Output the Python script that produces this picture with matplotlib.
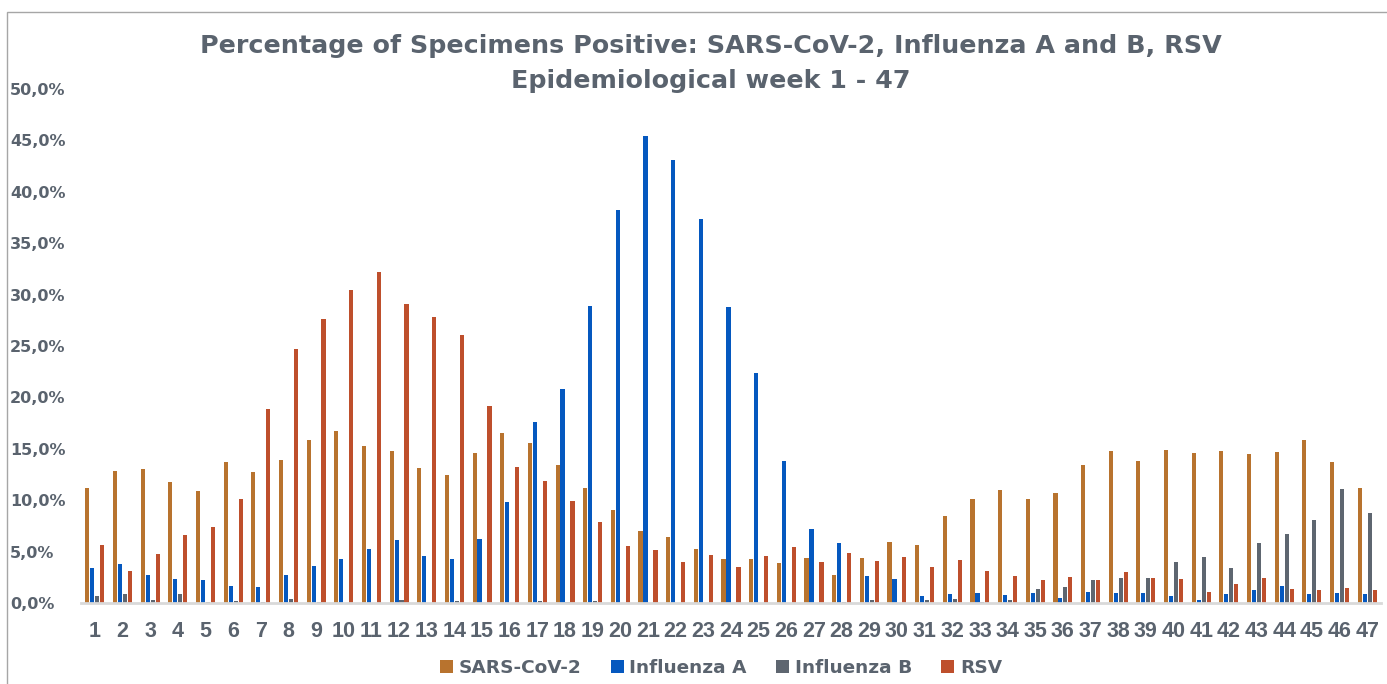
import numpy as np
import matplotlib
matplotlib.use('Agg')
import matplotlib.pyplot as plt
from matplotlib.patches import Rectangle, Patch
from matplotlib.ticker import FuncFormatter

weeks = list(range(1, 48))

sars_cov2 = [11.2, 12.85, 13.0, 11.75, 10.9, 13.7, 12.7, 13.9, 15.9, 16.7,
             15.3, 14.8, 13.1, 12.5, 14.6, 16.5, 15.6, 13.4, 11.2, 9.05,
             7.05, 6.4, 5.25, 4.3, 4.3, 3.9, 4.4, 2.7, 4.35, 5.9,
             5.65, 8.45, 10.1, 10.95, 10.1, 10.7, 13.4, 14.8, 13.8, 14.9,
             14.6, 14.8, 14.5, 14.7, 15.9, 13.7, 11.2]
influenza_a = [3.4, 3.8, 2.7, 2.3, 2.2, 1.7, 1.55, 2.7, 3.6, 4.3,
               5.25, 6.1, 4.6, 4.3, 6.25, 9.8, 17.6, 20.8, 28.85, 38.2,
               45.4, 43.1, 37.4, 28.8, 22.35, 13.8, 7.2, 5.85, 2.65, 2.3,
               0.7, 0.9, 1.0, 0.8, 1.0, 0.5, 1.05, 1.0, 1.0, 0.7,
               0.3, 0.9, 1.25, 1.7, 0.9, 1.0, 0.9]
influenza_b = [0.7, 0.9, 0.25, 0.9, 0.05, 0.2, 0.05, 0.4, 0.1, 0.0,
               0.0, 0.3, 0.0, 0.2, 0.0, 0.0, 0.2, 0.1, 0.2, 0.0,
               0.0, 0.0, 0.0, 0.0, 0.0, 0.0, 0.0, 0.1, 0.3, 0.0,
               0.3, 0.4, 0.1, 0.3, 1.4, 1.55, 2.25, 2.45, 2.45, 4.0,
               4.5, 3.4, 5.8, 6.7, 8.05, 11.05, 8.75]
rsv = [5.6, 3.1, 4.8, 6.6, 7.4, 10.1, 18.9, 24.7, 27.65, 30.4,
       32.15, 29.1, 27.8, 26.05, 19.2, 13.2, 11.85, 9.9, 7.9, 5.55,
       5.2, 4.0, 4.7, 3.55, 4.6, 5.45, 3.95, 4.85, 4.1, 4.5,
       3.5, 4.15, 3.1, 2.65, 2.2, 2.5, 2.25, 3.0, 2.45, 2.35,
       1.1, 1.85, 2.45, 1.35, 1.25, 1.45, 1.3]

series = [("SARS-CoV-2", sars_cov2, "#B8732E"),
          ("Influenza A", influenza_a, "#0558BF"),
          ("Influenza B", influenza_b, "#5E6670"),
          ("RSV", rsv, "#BE4F2C")]

text_color = "#5A636E"

W, H = 1387, 684
fig = plt.figure(figsize=(W / 100, H / 100), dpi=100)
ax = fig.add_axes([81 / W, (H - 603) / H, 1300 / W, (603 - 89) / H])

x = np.array(weeks)
step = 0.18
for i, (name, vals, col) in enumerate(series):
    ax.bar(x + (i - 1.5) * step, vals, width=0.15, color=col, label=name, zorder=2)

ax.set_xlim(0.5, 47.5)
ax.set_ylim(0, 50)
ax.set_yticks(np.arange(0, 51, 5))
ax.yaxis.set_major_formatter(FuncFormatter(lambda v, p: f"{v:.1f}%".replace(".", ",")))
ax.set_xticks(x)
ax.set_xticklabels([str(w) for w in weeks])

ax.tick_params(axis='y', length=0, pad=51, labelsize=11.5, labelcolor=text_color)
ax.tick_params(axis='x', length=0, pad=13, labelsize=15.5, labelcolor=text_color)
for lab in ax.get_yticklabels():
    lab.set_horizontalalignment('left')
    lab.set_fontweight('bold')
for lab in ax.get_xticklabels():
    lab.set_fontweight('bold')
    lab.set_family('Liberation Sans')

for s in ['top', 'right', 'left']:
    ax.spines[s].set_visible(False)
ax.spines['bottom'].set_color('#D9D9D9')
ax.spines['bottom'].set_linewidth(2)

fig.text(711 / W, 1 - 46 / H,
         "Percentage of Specimens Positive: SARS-CoV-2, Influenza A and B, RSV",
         ha='center', va='center', fontsize=18.3, fontweight='bold', color=text_color)
fig.text(711 / W, 1 - 81 / H, "Epidemiological week 1 - 47",
         ha='center', va='center', fontsize=18.3, fontweight='bold', color=text_color)

handles = [Patch(facecolor=c, label=n) for n, _, c in series]
leg = fig.legend(handles=handles, loc='center', bbox_to_anchor=(721 / W, 1 - 668 / H),
                 ncol=4, frameon=False, fontsize=13.3, handlelength=0.7, handleheight=0.7,
                 handletextpad=0.3, columnspacing=1.6)
for t in leg.get_texts():
    t.set_color(text_color)
    t.set_fontweight('bold')

fig.patches.append(Rectangle((7 / W, -0.1), 1.2, 1 - 12 / H + 0.1, transform=fig.transFigure,
                             fill=False, edgecolor='#A6A6A6', linewidth=1))

fig.savefig("out.png", dpi=100)
